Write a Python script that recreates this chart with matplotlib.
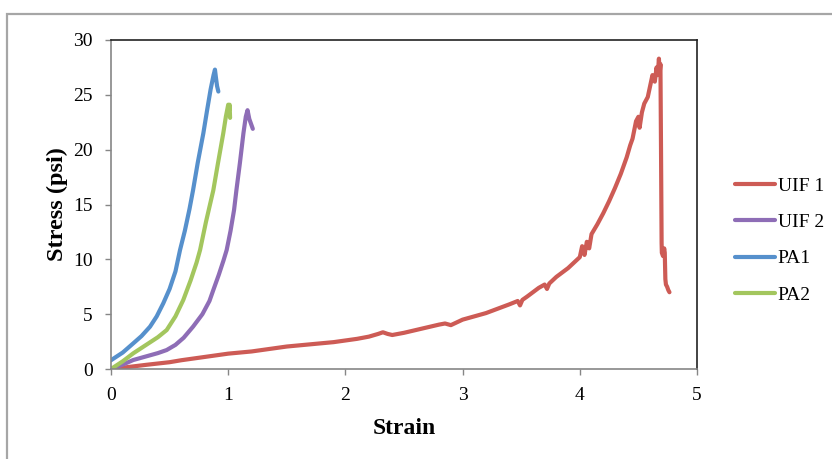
import matplotlib
matplotlib.use("Agg")
import matplotlib.pyplot as plt
from matplotlib.patches import Rectangle

# ---- data ----
uif1_x = [0, 0.1, 0.2, 0.3, 0.4, 0.5, 0.6, 0.7, 0.8, 0.9, 1.0, 1.1, 1.2, 1.3, 1.4, 1.5,
          1.6, 1.7, 1.8, 1.9, 2.0, 2.1, 2.2, 2.28, 2.32, 2.36, 2.4, 2.5, 2.6, 2.7, 2.8,
          2.85, 2.9, 3.0, 3.1, 3.2, 3.3, 3.4, 3.47, 3.49, 3.51, 3.55, 3.6, 3.65, 3.7,
          3.72, 3.74, 3.8, 3.85, 3.9, 3.95, 4.0, 4.02, 4.04, 4.06, 4.08, 4.1, 4.15,
          4.2, 4.25, 4.3, 4.35, 4.4, 4.43, 4.45, 4.48, 4.5, 4.51, 4.53, 4.55, 4.58,
          4.6, 4.62, 4.64, 4.655, 4.665, 4.675, 4.682, 4.688, 4.693, 4.698, 4.70,
          4.71, 4.72, 4.725, 4.73, 4.735, 4.745, 4.755, 4.765]
uif1_y = [0, 0.12, 0.25, 0.38, 0.5, 0.62, 0.8, 0.95, 1.1, 1.25, 1.4, 1.5, 1.6, 1.75, 1.9, 2.05,
          2.15, 2.25, 2.35, 2.45, 2.6, 2.75, 2.95, 3.2, 3.35, 3.2, 3.1, 3.3, 3.55, 3.8, 4.05,
          4.15, 4.0, 4.5, 4.8, 5.1, 5.5, 5.9, 6.2, 5.8, 6.3, 6.6, 7.0, 7.4, 7.7,
          7.3, 7.8, 8.4, 8.8, 9.2, 9.7, 10.2, 11.2, 10.4, 11.6, 11.0, 12.3, 13.2,
          14.2, 15.3, 16.5, 17.8, 19.3, 20.4, 21.0, 22.6, 23.0, 22.0, 23.4, 24.2, 24.8,
          25.8, 26.8, 26.2, 27.5, 26.8, 28.3, 27.0, 27.8, 20.0, 11.5, 10.6,
          10.3, 11.0, 10.6, 8.2, 7.7, 7.5, 7.2, 7.0]

uif2_x = [0, 0.1, 0.19, 0.3, 0.4, 0.475, 0.55, 0.62, 0.7, 0.78, 0.84, 0.873, 0.92, 0.96,
          0.987, 1.02, 1.05, 1.07, 1.1, 1.13, 1.15, 1.165, 1.18, 1.2, 1.21]
uif2_y = [0, 0.4, 0.82, 1.15, 1.45, 1.73, 2.2, 2.85, 3.86, 5.0, 6.2, 7.2, 8.6, 9.9,
          10.85, 12.6, 14.5, 16.3, 18.8, 21.5, 23.0, 23.6, 22.8, 22.2, 21.9]

pa1_x = [0, 0.1, 0.19, 0.26, 0.333, 0.39, 0.446, 0.5, 0.55, 0.589, 0.63, 0.67, 0.70,
         0.74, 0.788, 0.82, 0.85, 0.875, 0.887, 0.895, 0.905, 0.916]
pa1_y = [0.8, 1.5, 2.34, 3.0, 3.86, 4.8, 5.99, 7.3, 8.9, 10.85, 12.6, 14.6, 16.3,
         18.8, 21.5, 23.6, 25.5, 26.8, 27.3, 26.6, 25.8, 25.3]

pa2_x = [0, 0.1, 0.19, 0.3, 0.4, 0.475, 0.55, 0.617, 0.68, 0.73, 0.76, 0.81, 0.873,
         0.91, 0.958, 0.98, 1.0, 1.008, 1.012, 1.016]
pa2_y = [0, 0.7, 1.43, 2.2, 2.9, 3.55, 4.8, 6.3, 8.1, 9.7, 10.85, 13.4, 16.3,
         18.6, 21.5, 23.0, 24.1, 23.6, 24.1, 22.9]

series_labels = ["UIF 1", "UIF 2", "PA1", "PA2"]
x_ticks = [0, 1, 2, 3, 4, 5]
y_ticks = [0, 5, 10, 15, 20, 25, 30]

colors = ["#CD5B55", "#8E6DB6", "#5690CC", "#A3C65E"]

plt.rcParams['font.family'] = ['Liberation Serif', 'DejaVu Serif']

fig = plt.figure(figsize=(8.32, 4.59), dpi=100)
# outer chart border
fig.patches.append(Rectangle((7/832, -0.2), 1.2, 1 - 14/459 + 0.2, transform=fig.transFigure,
                             fill=False, edgecolor="#A6A6A6", linewidth=1.6))

ax = fig.add_axes([111/832, 1 - 369/459, (697 - 111)/832, (369 - 40)/459])

for xs, ys, c, lab in zip([uif1_x, uif2_x, pa1_x, pa2_x], [uif1_y, uif2_y, pa1_y, pa2_y],
                          colors, series_labels):
    ax.plot(xs, ys, color=c, lw=3.0, label=lab, solid_joinstyle="round", solid_capstyle="round")

ax.set_xlim(0, 5)
ax.set_ylim(0, 30)
ax.set_xticks(x_ticks)
ax.set_yticks(y_ticks)
ax.tick_params(direction="out", length=4, width=1, color="#868686", labelsize=14)
ax.tick_params(axis="x", pad=9)
ax.tick_params(axis="y", pad=9)
for s in ["left", "bottom"]:
    ax.spines[s].set_color("#868686")
    ax.spines[s].set_linewidth(1.2)
for s in ["top", "right"]:
    ax.spines[s].set_color("#222222")
    ax.spines[s].set_linewidth(1.2)

ax.set_xlabel("Strain", fontsize=17, fontweight="bold", labelpad=10)
ax.set_ylabel("Stress (psi)", fontsize=17.5, fontweight="bold", labelpad=4)

fig.legend(loc="center left", bbox_to_anchor=(735/832, 1 - 240.5/459), frameon=False,
           fontsize=14, handlelength=2.05, handletextpad=0.15, labelspacing=0.96,
           borderpad=0, borderaxespad=0)

fig.savefig("out.png", dpi=100)
